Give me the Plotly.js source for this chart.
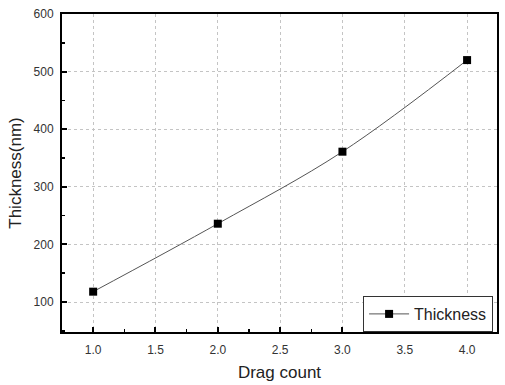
<!DOCTYPE html>
<html>
<head>
<meta charset="utf-8">
<script src="https://cdn.plot.ly/plotly-3.0.1.min.js"></script>
<style>html,body{margin:0;padding:0;background:#fff;}#chart{width:505px;height:385px;}</style>
</head>
<body>
<div id="chart"></div>
<script>
const dragCount = [1.0, 2.0, 3.0, 4.0];
const thickness = [118, 236, 361, 520];
const seriesName = "Thickness";
const xTickVals = [1.0, 1.5, 2.0, 2.5, 3.0, 3.5, 4.0];
const xTickText = ["1.0", "1.5", "2.0", "2.5", "3.0", "3.5", "4.0"];
const yTickVals = [100, 200, 300, 400, 500, 600];

const trace = {
  x: dragCount,
  y: thickness,
  name: seriesName,
  type: "scatter",
  mode: "lines+markers",
  line: {shape: "spline", color: "#555555", width: 1},
  marker: {symbol: "square", size: 8, color: "#000000"},
  showlegend: true
};

const font = {family: "Liberation Sans, Arial, sans-serif", color: "#222222"};

const layout = {
  width: 505, height: 385,
  margin: {l: 62, r: 8, t: 14, b: 53, pad: 0},
  paper_bgcolor: "#ffffff",
  plot_bgcolor: "#ffffff",
  font: font,
  showlegend: true,
  xaxis: {
    range: [0.75, 4.24],
    tickvals: xTickVals, ticktext: xTickText,
    ticks: "inside", ticklen: 5, tickwidth: 2, tickcolor: "#000",
    showline: true, linewidth: 2, linecolor: "#000", mirror: true,
    showgrid: true, gridcolor: "#c4c4c4", griddash: "dot", gridwidth: 1,
    zeroline: false,
    ticklabelstandoff: 6,
    tickfont: {size: 12, color: "#333", family: font.family},
    minor: {dtick: 0.25, tick0: 0, ticks: "inside", ticklen: 3, tickwidth: 1.5, tickcolor: "#000", showgrid: false},
    title: {text: "Drag count", font: {size: 17, color: "#222", family: font.family}, standoff: 10}
  },
  yaxis: {
    range: [48, 600],
    tickvals: yTickVals,
    ticks: "inside", ticklen: 5, tickwidth: 2, tickcolor: "#000",
    showline: true, linewidth: 2, linecolor: "#000", mirror: true,
    showgrid: true, gridcolor: "#c4c4c4", griddash: "dot", gridwidth: 1,
    zeroline: false,
    ticklabelstandoff: 4,
    tickfont: {size: 12, color: "#333", family: font.family},
    minor: {dtick: 50, tick0: 0, ticks: "inside", ticklen: 3, tickwidth: 1.5, tickcolor: "#000", showgrid: false},
    title: {text: "Thickness(nm)", font: {size: 17, color: "#222", family: font.family}, standoff: 8}
  },
  legend: {
    x: 0.991, y: 0, xanchor: "right", yanchor: "bottom",
    bgcolor: "#ffffff", bordercolor: "#333", borderwidth: 1,
    font: {size: 16, color: "#222", family: font.family},
    itemwidth: 40,
    tracegroupgap: 0
  }
};

Plotly.newPlot("chart", [trace], layout, {displayModeBar: false, staticPlot: true});
</script>
</body>
</html>
